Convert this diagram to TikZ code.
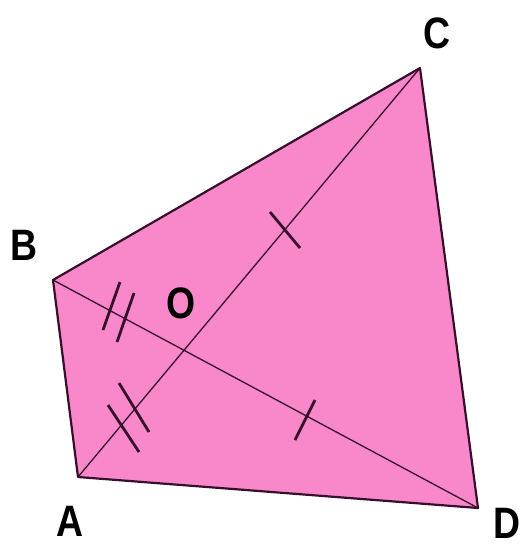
\documentclass[tikz,border=0pt]{standalone}
\usepackage{fontspec}
\setmainfont{Liberation Sans}
\begin{document}
\begin{tikzpicture}[x=1pt,y=-1pt,
  edge/.style={draw=linedark, line width=2.2pt, line join=round},
  diag/.style={draw=linedark, line width=1.3pt},
  tick/.style={draw=linedark, line width=2.8pt},
  lbl/.style={font=\fontsize{44}{44}\selectfont\bfseries, text=black, inner sep=0pt, xscale=0.85}]
\useasboundingbox (0,0) rectangle (521,547);
\definecolor{quadpink}{RGB}{248,136,202}
\definecolor{linedark}{RGB}{55,15,45}
\coordinate (A) at (78,477);
\coordinate (B) at (53,280);
\coordinate (C) at (420,68);
\coordinate (D) at (478,508);
\fill[quadpink] (A) -- (B) -- (C) -- (D) -- cycle;
\draw[diag] (A) -- (C);
\draw[diag] (B) -- (D);
\draw[edge] (A) -- (B) -- (C) -- (D) -- cycle;
% single ticks
\coordinate (t1a) at (270,212); \coordinate (t1b) at (300,248);
\draw[tick] (t1a) -- (t1b);
\coordinate (t2a) at (315,400); \coordinate (t2b) at (295,440);
\draw[tick] (t2a) -- (t2b);
% double ticks on BO
\coordinate (t3a) at (120,282); \coordinate (t3b) at (103,330);
\coordinate (t4a) at (134,293); \coordinate (t4b) at (117,342);
\draw[tick] (t3a) -- (t3b);
\draw[tick] (t4a) -- (t4b);
% double ticks on AO
\coordinate (t5a) at (119,383); \coordinate (t5b) at (149,432);
\coordinate (t6a) at (108,405); \coordinate (t6b) at (139,452);
\draw[tick] (t5a) -- (t5b);
\draw[tick] (t6a) -- (t6b);
\node[lbl] (lA) at (70,521) {A};
\node[lbl] (lB) at (24,245) {B};
\node[lbl] (lC) at (437,33) {C};
\node[lbl] (lD) at (507,523) {D};
\node[lbl] (lO) at (181,303) {O};
\end{tikzpicture}
\end{document}
